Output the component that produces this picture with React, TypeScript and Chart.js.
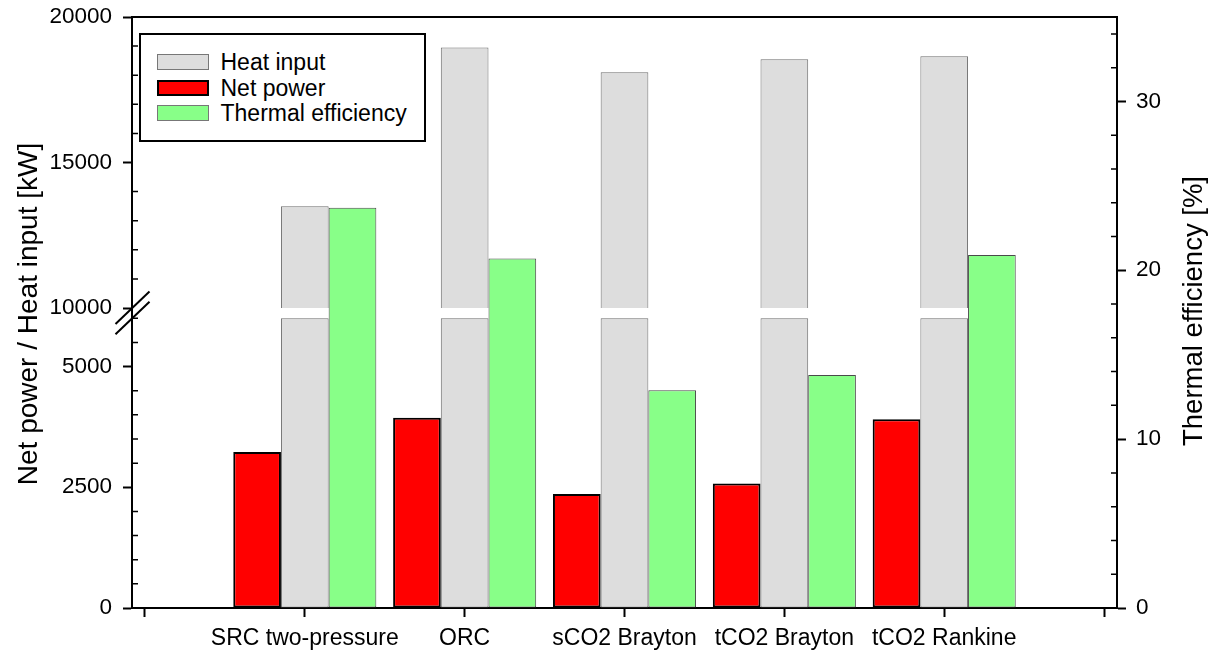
import React, { useEffect, useRef } from 'react';
import { Chart, registerables } from 'chart.js';

Chart.register(...registerables);

// ---------------- data ----------------
const categories = ['SRC two-pressure', 'ORC', 'sCO2 Brayton', 'tCO2 Brayton', 'tCO2 Rankine'];
const heatInput = [13500, 18950, 18100, 18550, 18650];
const netPower = [3230, 3940, 2360, 2580, 3910];
const thermalEfficiency = [23.7, 20.7, 12.9, 13.8, 20.9];

// ---------------- axes / ticks ----------------
const xTickPositions = [0, 1, 2, 3, 4, 5, 6];
const leftLowerMajorTicks = [0, 2500, 5000];
const leftUpperMajorTicks = [10000, 15000, 20000];
const rightMajorTicks = [0, 10, 20, 30];
const leftLowerMinorTicks = [500, 1000, 1500, 2000, 3000, 3500, 4000, 4500, 5500, 6000];
const leftUpperMinorTicks = [11000, 12000, 13000, 14000, 16000, 17000, 18000, 19000];
const rightMinorTicks = [2, 4, 6, 8, 12, 14, 16, 18, 22, 24, 26, 28, 32, 34];

const breakLower = 6000; // top of lower axis segment
const breakUpper = 10000; // bottom of upper axis segment
const lowerAxisMax = 6213;
const upperAxisMax = 20000;
const rightAxisMax = 35;

const leftTitle = 'Net power / Heat input [kW]';
const rightTitle = 'Thermal efficiency [%]';

const seriesNames = { heat: 'Heat input', net: 'Net power', eff: 'Thermal efficiency' };

// ---------------- styles ----------------
const FONT = "'Liberation Sans', Arial, Helvetica, sans-serif";
const RED = '#ff0000';
const GREY = '#dddddd';
const GREEN = '#88ff88';

const decorPlugin = {
  id: 'decor',
  afterDraw(chart: any) {
    const { ctx, chartArea } = chart;
    const { left, right, top, bottom } = chartArea;
    const yLow = chart.scales.yLow;
    const yUp = chart.scales.yUp;
    const yR = chart.scales.yR;
    ctx.save();
    ctx.strokeStyle = '#000';
    // top frame line
    ctx.lineWidth = 2;
    ctx.beginPath();
    ctx.moveTo(left - 1, top);
    ctx.lineTo(right + 1, top);
    ctx.stroke();
    // minor ticks (inward)
    ctx.lineWidth = 1.5;
    ctx.beginPath();
    for (const v of leftLowerMinorTicks) {
      const y = yLow.getPixelForValue(v);
      ctx.moveTo(left, y);
      ctx.lineTo(left + 6, y);
    }
    for (const v of leftUpperMinorTicks) {
      const y = yUp.getPixelForValue(v);
      ctx.moveTo(left, y);
      ctx.lineTo(left + 6, y);
    }
    for (const v of rightMinorTicks) {
      const y = yR.getPixelForValue(v);
      ctx.moveTo(right, y);
      ctx.lineTo(right - 6, y);
    }
    ctx.stroke();
    // axis break marks
    ctx.lineWidth = 2;
    for (const y of [yUp.getPixelForValue(breakUpper), yLow.getPixelForValue(breakLower)]) {
      ctx.beginPath();
      ctx.moveTo(left - 16.5, y + 16);
      ctx.lineTo(left + 17.5, y - 16.5);
      ctx.stroke();
    }
    // axis titles
    ctx.fillStyle = '#000';
    ctx.textAlign = 'center';
    ctx.textBaseline = 'alphabetic';
    const midY = (top + bottom) / 2;
    ctx.save();
    ctx.font = `28px ${FONT}`;
    ctx.translate(37, midY + 1.5);
    ctx.rotate(-Math.PI / 2);
    ctx.fillText(leftTitle, 0, 0);
    ctx.restore();
    ctx.save();
    ctx.font = `27.5px ${FONT}`;
    ctx.translate(right + 84.5, midY - 1.5);
    ctx.rotate(-Math.PI / 2);
    ctx.fillText(rightTitle, 0, 0);
    ctx.restore();
    ctx.restore();
  },
};

const gridOpts = {
  display: true,
  drawOnChartArea: false,
  drawTicks: true,
  tickLength: 9,
  tickWidth: 2,
  tickColor: '#000',
  color: '#000',
  offset: false,
};
const borderOpts = { display: true, color: '#000', width: 2 };
const fixTicks = (values: number[]) => (s: any) => {
  s.ticks = values.map((v) => ({ value: v }));
};
const fixSize = (dim: 'width' | 'height', size: number) => (s: any) => {
  s[dim] = size;
  s.paddingTop = 0;
  s.paddingBottom = 0;
  s.paddingLeft = 0;
  s.paddingRight = 0;
};

export default function App() {
  const canvasRef = useRef<HTMLCanvasElement | null>(null);

  useEffect(() => {
    if (!canvasRef.current) return;
    const xy = (vals: number[]) => vals.map((v, i) => ({ x: i + 1, y: v }));
    const heatLowerPart = heatInput.map((v) => Math.min(v, breakLower));

    const chart = new Chart(canvasRef.current, {
      type: 'bar',
      data: {
        datasets: [
          {
            label: seriesNames.net,
            data: xy(netPower),
            yAxisID: 'yLow',
            stack: 'net',
            backgroundColor: RED,
            borderColor: '#000',
            borderWidth: 2,
          },
          {
            label: seriesNames.heat,
            data: xy(heatLowerPart),
            yAxisID: 'yLow',
            stack: 'heat',
            backgroundColor: GREY,
            borderColor: '#6e6e6e',
            borderWidth: 1,
          },
          {
            label: seriesNames.heat + ' (upper)',
            data: xy(heatInput),
            yAxisID: 'yUp',
            stack: 'heat',
            backgroundColor: GREY,
            borderColor: '#6e6e6e',
            borderWidth: 1,
          },
          {
            label: seriesNames.eff,
            data: xy(thermalEfficiency),
            yAxisID: 'yR',
            stack: 'eff',
            backgroundColor: GREEN,
            borderColor: '#4a4a4a',
            borderWidth: 1,
          },
        ],
      },
      options: {
        responsive: false,
        animation: false,
        layout: { padding: { top: 17, left: 0, right: 0, bottom: 0 } },
        plugins: { legend: { display: false }, tooltip: { enabled: false } },
        datasets: {
          bar: { categoryPercentage: 0.895, barPercentage: 1, borderSkipped: false, grouped: true },
        },
        scales: {
          x: {
            type: 'linear',
            position: 'bottom',
            min: -0.081,
            max: 6.081,
            offset: false,
            grid: gridOpts,
            border: borderOpts,
            ticks: {
              color: '#000',
              font: { family: FONT, size: 23 },
              autoSkip: false,
              maxRotation: 0,
              minRotation: 0,
              padding: 8,
              callback: (v: any) => categories[Math.round(Number(v)) - 1] ?? '',
            },
            afterBuildTicks: fixTicks(xTickPositions),
            afterFit: fixSize('height', 44),
          },
          yUp: {
            type: 'linear',
            position: 'left',
            stack: 'left',
            stackWeight: 291,
            weight: 2,
            stacked: false,
            min: breakUpper,
            max: upperAxisMax,
            grid: gridOpts,
            border: borderOpts,
            ticks: {
              color: '#000',
              font: { family: FONT, size: 22.5 },
              padding: 11,
              callback: (v: any) => String(v),
            },
            afterBuildTicks: fixTicks(leftUpperMajorTicks),
            afterFit: fixSize('width', 132),
          },
          yLow: {
            type: 'linear',
            position: 'left',
            stack: 'left',
            stackWeight: 300,
            weight: 1,
            stacked: false,
            min: 0,
            max: lowerAxisMax,
            grid: gridOpts,
            border: borderOpts,
            ticks: {
              color: '#000',
              font: { family: FONT, size: 22.5 },
              padding: 11,
              callback: (v: any) => String(v),
            },
            afterBuildTicks: fixTicks(leftLowerMajorTicks),
            afterFit: fixSize('width', 132),
          },
          yR: {
            type: 'linear',
            position: 'right',
            stacked: false,
            min: 0,
            max: rightAxisMax,
            grid: gridOpts,
            border: borderOpts,
            ticks: {
              color: '#000',
              font: { family: FONT, size: 22.5 },
              padding: 10,
              callback: (v: any) => String(v),
            },
            afterBuildTicks: fixTicks(rightMajorTicks),
            afterFit: fixSize('width', 92),
          },
        },
      } as any,
      plugins: [decorPlugin],
    });
    return () => chart.destroy();
  }, []);

  const legendItems = [
    { label: seriesNames.heat, fill: GREY, border: '1.5px solid #777' },
    { label: seriesNames.net, fill: RED, border: '2px solid #000' },
    { label: seriesNames.eff, fill: GREEN, border: '1.5px solid #777' },
  ];
  const rowCenters = [62.2, 87.7, 113.3];

  return (
    <div style={{ position: 'fixed', left: 0, top: 0, width: 1209, height: 652, background: '#fff', overflow: 'hidden' }}>
      <canvas ref={canvasRef} width={1209} height={652} style={{ position: 'absolute', left: 0, top: 0 }} />
      <div
        style={{
          position: 'absolute',
          left: 139,
          top: 33,
          width: 287,
          height: 109,
          border: '2px solid #000',
          boxSizing: 'border-box',
          background: '#fff',
        }}
      />
      {legendItems.map((it, i) => (
        <React.Fragment key={it.label}>
          <div
            style={{
              position: 'absolute',
              left: 157,
              top: rowCenters[i] - 8,
              width: 52,
              height: 16,
              background: it.fill,
              border: it.border,
              boxSizing: 'border-box',
            }}
          />
          <div
            style={{
              position: 'absolute',
              left: 220.5,
              top: rowCenters[i] - 11.2,
              fontFamily: FONT,
              fontSize: 23,
              lineHeight: '23px',
              color: '#000',
              whiteSpace: 'nowrap',
            }}
          >
            {it.label}
          </div>
        </React.Fragment>
      ))}
    </div>
  );
}
